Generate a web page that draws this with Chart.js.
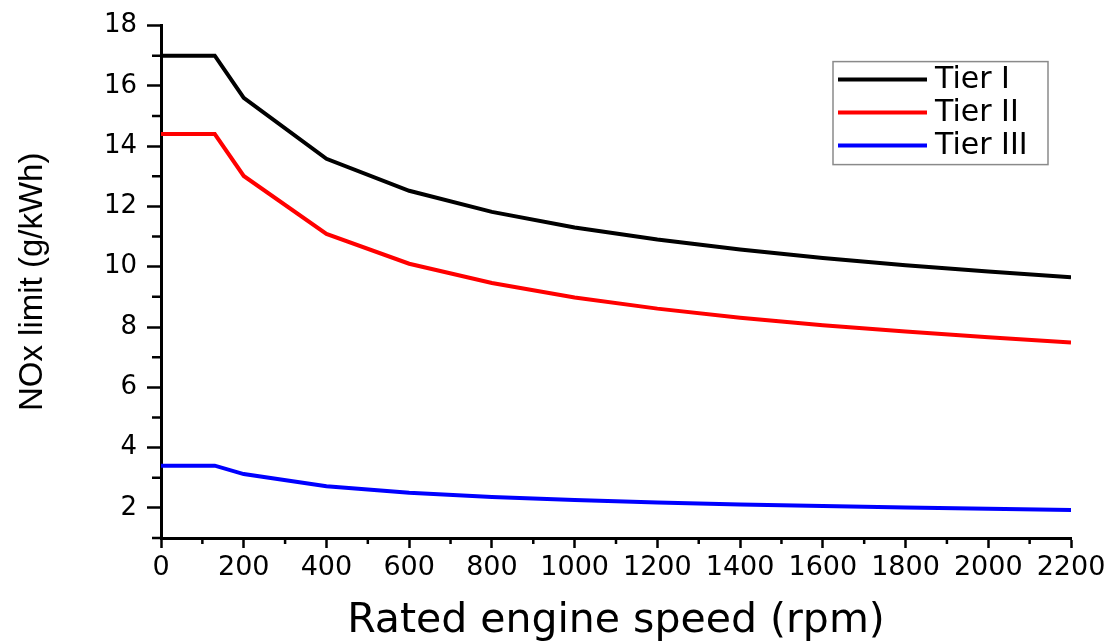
<!DOCTYPE html>
<html>
<head>
<meta charset="utf-8">
<script src="https://cdn.jsdelivr.net/npm/chart.js@4.4.1/dist/chart.umd.min.js"></script>
<style>
  body { margin: 0; background: #fff; }
</style>
</head>
<body>
<canvas id="chart" width="1115" height="642"></canvas>
<script>
// rated speed (rpm) and NOx limits (g/kWh)
const speeds = [0, 130, 200, 400, 600, 800, 1000, 1200, 1400, 1600, 1800, 2000, 2200];
const tier1 = [17, 17, 15.6, 13.58, 12.52, 11.82, 11.3, 10.9, 10.57, 10.29, 10.05, 9.84, 9.65];
const tier2 = [14.4, 14.4, 13.01, 11.09, 10.1, 9.46, 8.98, 8.61, 8.31, 8.06, 7.85, 7.66, 7.49];
const tier3 = [3.4, 3.4, 3.12, 2.72, 2.5, 2.36, 2.26, 2.18, 2.11, 2.06, 2.01, 1.97, 1.93];

const seriesNames = ['Tier I', 'Tier II', 'Tier III'];
const seriesColors = ['#000000', '#ff0000', '#0000ff'];

const xMinorTicks = [100, 300, 500, 700, 900, 1100, 1300, 1500, 1700, 1900, 2100];
const yMinorTicks = [1, 3, 5, 7, 9, 11, 13, 15, 17];

const toPoints = (ys) => ys.map((y, i) => ({ x: speeds[i], y: y }));

// small ticks between the labelled ones
const minorTicks = {
  id: 'minorTicks',
  afterDraw(chart) {
    const ctx = chart.ctx;
    const x = chart.scales.x, y = chart.scales.y;
    const area = chart.chartArea;
    ctx.save();
    ctx.strokeStyle = '#000';
    ctx.lineWidth = 2.5;
    ctx.beginPath();
    xMinorTicks.forEach(v => {
      const px = x.getPixelForValue(v);
      ctx.moveTo(px, area.bottom);
      ctx.lineTo(px, area.bottom + 6);
    });
    yMinorTicks.forEach(v => {
      const py = y.getPixelForValue(v);
      ctx.moveTo(area.left - 9, py);
      ctx.lineTo(area.left, py);
    });
    ctx.stroke();
    ctx.restore();
  }
};

// boxed legend in the top right corner of the plot
const boxLegend = {
  id: 'boxLegend',
  afterDraw(chart) {
    const ctx = chart.ctx;
    const area = chart.chartArea;
    const left = area.right - 238, top = area.top + 36;
    ctx.save();
    ctx.strokeStyle = '#8a8a8a';
    ctx.lineWidth = 1.5;
    ctx.strokeRect(left, top, 215, 103);
    ctx.font = '30px "DejaVu Sans", sans-serif';
    ctx.textBaseline = 'middle';
    ctx.fillStyle = '#000';
    chart.data.datasets.forEach((ds, i) => {
      const yy = top + 18 + i * 33;
      ctx.strokeStyle = ds.borderColor;
      ctx.lineWidth = 4;
      ctx.beginPath();
      ctx.moveTo(left + 5, yy);
      ctx.lineTo(left + 94, yy);
      ctx.stroke();
      ctx.fillText(ds.label, left + 102, yy + 1);
    });
    ctx.restore();
  }
};

new Chart(document.getElementById('chart').getContext('2d'), {
  type: 'line',
  data: {
    datasets: [
      { label: seriesNames[0], data: toPoints(tier1), borderColor: seriesColors[0] },
      { label: seriesNames[1], data: toPoints(tier2), borderColor: seriesColors[1] },
      { label: seriesNames[2], data: toPoints(tier3), borderColor: seriesColors[2] }
    ]
  },
  options: {
    responsive: false,
    animation: false,
    layout: { padding: { top: 22, right: 44, left: 0, bottom: 0 } },
    elements: {
      line: { borderWidth: 4, tension: 0 },
      point: { radius: 0 }
    },
    plugins: {
      legend: { display: false },
      tooltip: { enabled: false }
    },
    scales: {
      x: {
        type: 'linear',
        min: 0,
        max: 2200,
        afterFit: (s) => { s.height = 104; },
        border: { color: '#000', width: 3 },
        grid: { drawOnChartArea: false, tickLength: 10, tickWidth: 2.5, color: '#000' },
        ticks: {
          stepSize: 200,
          autoSkip: false,
          maxRotation: 0,
          padding: 4,
          color: '#000',
          callback: (v) => String(v),
          font: { family: '"DejaVu Sans"', size: 27 }
        },
        title: {
          display: true,
          text: 'Rated engine speed (rpm)',
          color: '#000',
          padding: { top: 0, bottom: 0 },
          font: { family: '"DejaVu Sans"', size: 41, lineHeight: 1.0 }
        }
      },
      y: {
        min: 1,
        max: 18,
        afterFit: (s) => { s.width = 161; },
        border: { color: '#000', width: 3 },
        grid: { drawOnChartArea: false, tickLength: 14, tickWidth: 2.5, color: '#000' },
        ticks: {
          stepSize: 2,
          includeBounds: false,
          padding: 10,
          color: '#000',
          font: { family: '"DejaVu Sans"', size: 26 }
        },
        title: {
          display: true,
          text: 'NOx limit (g/kWh)',
          color: '#000',
          padding: { top: 13, bottom: 0 },
          font: { family: '"Liberation Sans"', size: 33 }
        }
      }
    }
  },
  plugins: [minorTicks, boxLegend]
});
</script>
</body>
</html>
